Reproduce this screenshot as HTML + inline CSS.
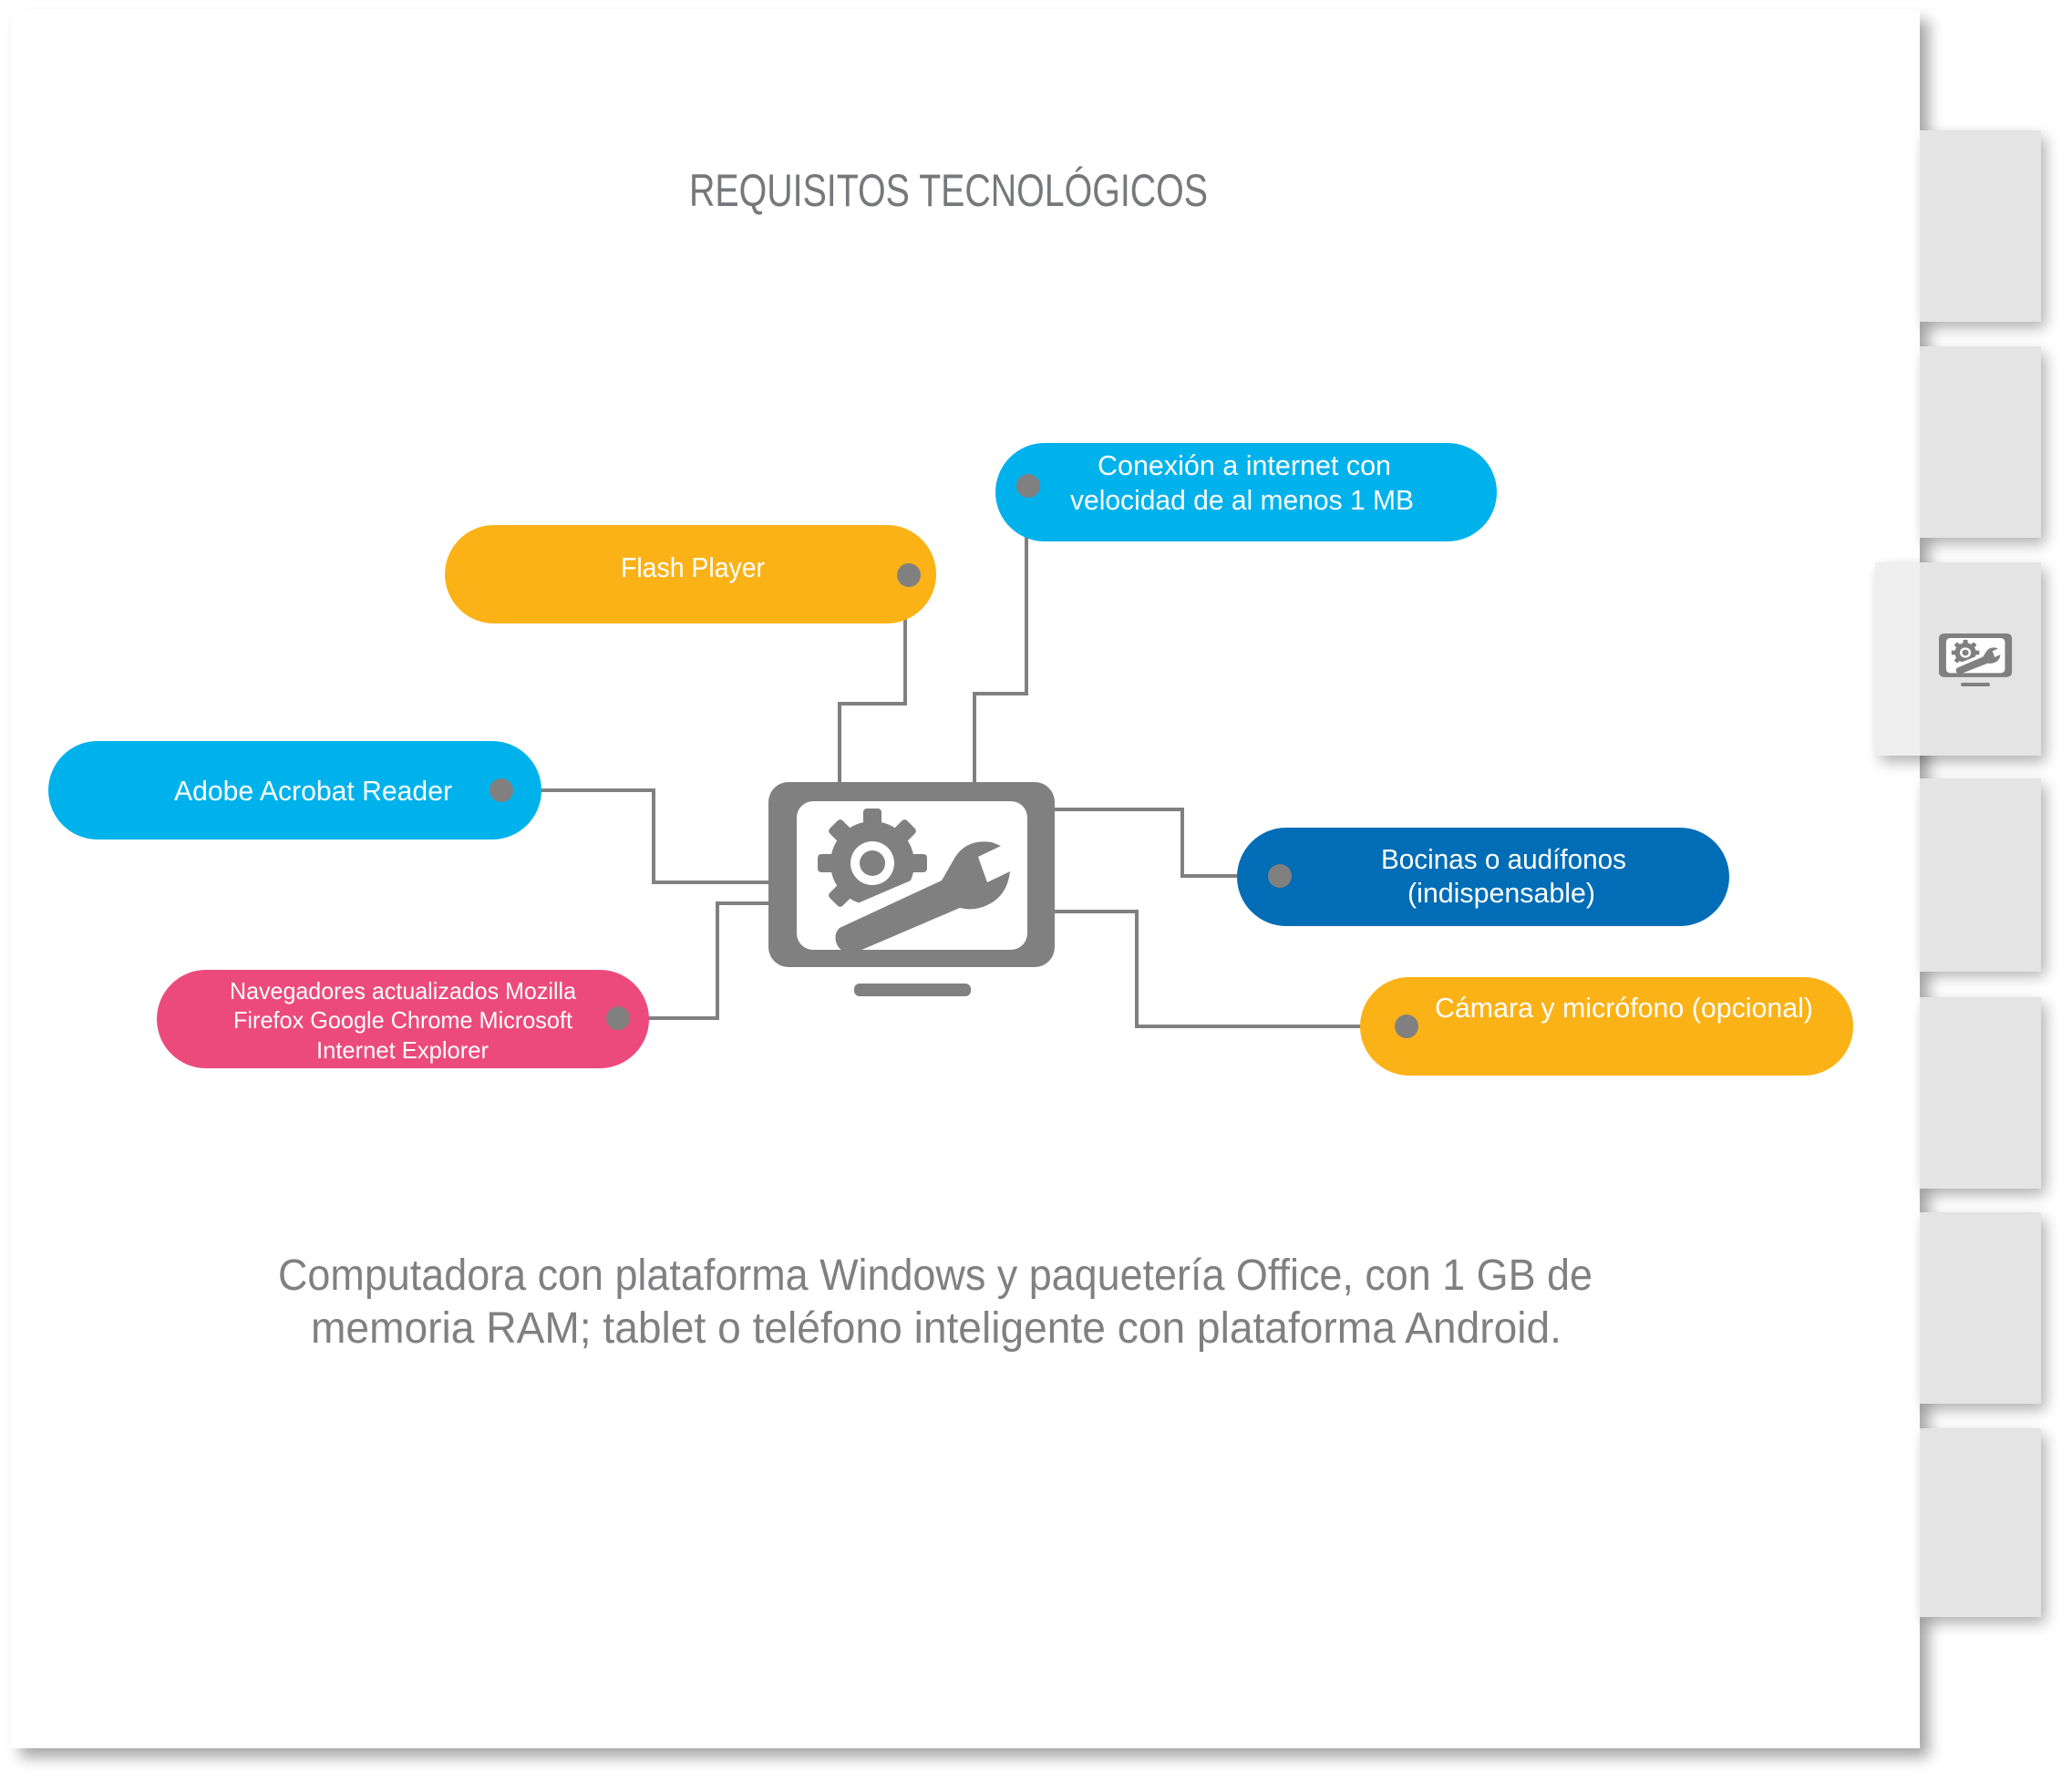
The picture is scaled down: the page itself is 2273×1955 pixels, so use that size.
<!DOCTYPE html>
<html><head><meta charset="utf-8"><style>
html,body{margin:0;padding:0;background:#fff;}
svg{display:block;}
text{font-family:"Liberation Sans",sans-serif;}
</style></head><body>
<svg width="2273" height="1955" viewBox="0 0 2273 1955" xmlns="http://www.w3.org/2000/svg">
<defs>
<filter id="sh" x="-10%" y="-10%" width="130%" height="130%"><feGaussianBlur stdDeviation="8"/></filter>
<g id="mon">
  <rect x="0" y="0" width="314" height="203" rx="22" fill="#808080"/>
  <rect x="31" y="21" width="253" height="163" rx="18" fill="#fff"/>
  <g transform="translate(114,89)" fill="#808080">
    <circle r="46"/>
    <g>
      <rect x="-10" y="-60" width="20" height="24" rx="4"/>
      <rect x="-10" y="36" width="20" height="24" rx="4"/>
      <rect x="-60" y="-10" width="24" height="20" rx="4"/>
      <rect x="36" y="-10" width="24" height="20" rx="4"/>
      <g transform="rotate(45)"><rect x="-10" y="-60" width="20" height="24" rx="4"/><rect x="-10" y="36" width="20" height="24" rx="4"/><rect x="-60" y="-10" width="24" height="20" rx="4"/><rect x="36" y="-10" width="24" height="20" rx="4"/></g>
    </g>
    <circle r="24" fill="#fff"/>
    <circle r="14" fill="#808080"/>
  </g>
  <polygon points="86,138 210,85 225,125 100,180" fill="#fff"/>
  <path d="M78,160 L190,108 L205,82 Q218,62 245,66 L255,70 L230,82 L240,110 L265,98 Q262,125 240,135 Q225,142 210,138 L100,185 Q85,192 76,180 Q70,168 78,160 Z" fill="#808080"/>
</g>
</defs>

<!-- page shadow -->
<rect x="22" y="22" width="2094" height="1906" fill="#000" opacity="0.35" filter="url(#sh)"/>
<rect x="12" y="10" width="2094" height="1908" fill="#fff"/>

<!-- tabs -->
<g>
  <rect x="2112" y="150" width="132" height="210" fill="#000" opacity="0.3" filter="url(#sh)"/>
  <rect x="2106" y="143" width="133" height="210" fill="#e4e4e4"/>
  <rect x="2112" y="387" width="132" height="210" fill="#000" opacity="0.3" filter="url(#sh)"/>
  <rect x="2106" y="380" width="133" height="210" fill="#e4e4e4"/>
  <rect x="2063" y="624" width="181" height="212" fill="#000" opacity="0.3" filter="url(#sh)"/>
  <rect x="2057" y="617" width="49" height="212" fill="#efefef"/>
  <rect x="2106" y="617" width="133" height="212" fill="#e4e4e4"/>
  <rect x="2112" y="861" width="132" height="210" fill="#000" opacity="0.3" filter="url(#sh)"/>
  <rect x="2106" y="854" width="133" height="212" fill="#e4e4e4"/>
  <rect x="2112" y="1101" width="132" height="210" fill="#000" opacity="0.3" filter="url(#sh)"/>
  <rect x="2106" y="1094" width="133" height="210" fill="#e4e4e4"/>
  <rect x="2112" y="1337" width="132" height="210" fill="#000" opacity="0.3" filter="url(#sh)"/>
  <rect x="2106" y="1330" width="133" height="210" fill="#e4e4e4"/>
  <rect x="2112" y="1574" width="132" height="207" fill="#000" opacity="0.3" filter="url(#sh)"/>
  <rect x="2106" y="1567" width="133" height="207" fill="#e4e4e4"/>
  <use href="#mon" transform="translate(2127,695) scale(0.255,0.236)"/>
  <rect x="2151" y="749" width="32" height="4" rx="2" fill="#808080"/>
</g>

<!-- title -->
<text x="756" y="226" font-size="50" fill="#77787b" textLength="569" lengthAdjust="spacingAndGlyphs">REQUISITOS TECNOLÓGICOS</text>

<!-- connectors -->
<g stroke="#808080" stroke-width="4" fill="none">
  <polyline points="993,631 993,772 921,772 921,860"/>
  <polyline points="1126,533 1126,761 1069,761 1069,860"/>
  <polyline points="550,867 717,867 717,968 845,968"/>
  <polyline points="678,1117 787,1117 787,991 845,991"/>
  <polyline points="1155,888 1297,888 1297,961 1404,961"/>
  <polyline points="1155,1000 1247,1000 1247,1126 1543,1126"/>
</g>

<!-- pills -->
<rect x="488" y="576" width="539" height="108" rx="54" fill="#fbb217"/>
<rect x="1092" y="486" width="550" height="108" rx="54" fill="#00b2ec"/>
<rect x="53" y="813" width="541" height="108" rx="54" fill="#00b2ec"/>
<rect x="172" y="1064" width="540" height="108" rx="54" fill="#ec4a7d"/>
<rect x="1357" y="908" width="540" height="108" rx="54" fill="#006db6"/>
<rect x="1492" y="1072" width="541" height="108" rx="54" fill="#fbb217"/>

<!-- dots -->
<g fill="#808080">
  <ellipse cx="997" cy="631" rx="13" ry="13"/>
  <ellipse cx="1128" cy="533" rx="13" ry="13"/>
  <ellipse cx="550" cy="867" rx="13" ry="13"/>
  <ellipse cx="678" cy="1117" rx="13" ry="13"/>
  <ellipse cx="1404" cy="961" rx="13" ry="13"/>
  <ellipse cx="1543" cy="1126" rx="13" ry="13"/>
</g>

<!-- pill text -->
<g fill="#fff" font-size="31">
  <text x="681" y="633" textLength="158" lengthAdjust="spacingAndGlyphs">Flash Player</text>
  <text x="1204" y="521" textLength="322" lengthAdjust="spacingAndGlyphs">Conexión a internet con</text>
  <text x="1174" y="559" textLength="377" lengthAdjust="spacingAndGlyphs">velocidad de al menos 1 MB</text>
  <text x="191" y="878" textLength="305" lengthAdjust="spacingAndGlyphs">Adobe Acrobat Reader</text>
  <text x="1515" y="953" textLength="269" lengthAdjust="spacingAndGlyphs">Bocinas o audífonos</text>
  <text x="1544" y="990" textLength="206" lengthAdjust="spacingAndGlyphs">(indispensable)</text>
  <text x="1574" y="1116" textLength="415" lengthAdjust="spacingAndGlyphs">Cámara y micrófono (opcional)</text>
</g>
<g fill="#fff" font-size="26">
  <text x="252" y="1096" textLength="380" lengthAdjust="spacingAndGlyphs">Navegadores actualizados Mozilla</text>
  <text x="256" y="1128" textLength="372" lengthAdjust="spacingAndGlyphs">Firefox Google Chrome Microsoft</text>
  <text x="347" y="1161" textLength="189" lengthAdjust="spacingAndGlyphs">Internet Explorer</text>
</g>

<!-- monitor -->
<use href="#mon" transform="translate(843,858)"/>
<rect x="937" y="1079" width="128" height="14" rx="6" fill="#808080"/>

<!-- bottom text -->
<g fill="#808083" font-size="48">
  <text x="305" y="1415" textLength="1442" lengthAdjust="spacingAndGlyphs">Computadora con plataforma Windows y paquetería Office, con 1 GB de</text>
  <text x="341" y="1473" textLength="1372" lengthAdjust="spacingAndGlyphs">memoria RAM; tablet o teléfono inteligente con plataforma Android.</text>
</g>
</svg>
</body></html>
